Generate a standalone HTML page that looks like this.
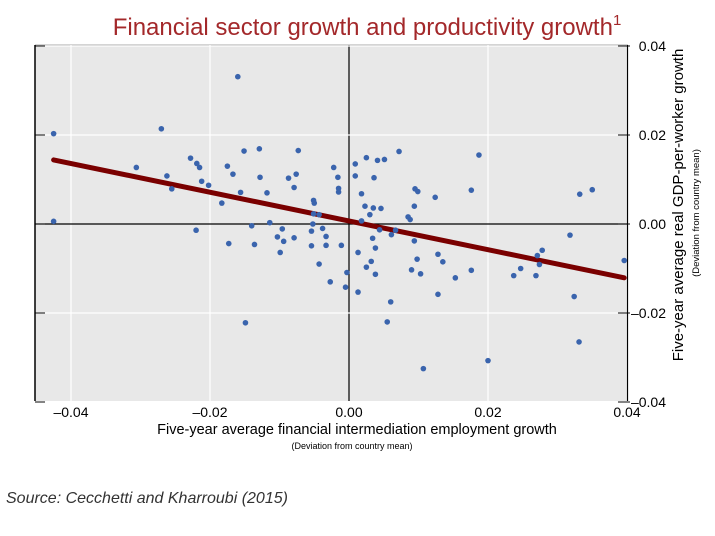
<!DOCTYPE html>
<html><head><meta charset="utf-8"><style>
body{margin:0;background:#fff;width:715px;height:531px;overflow:hidden;font-family:"Liberation Sans",sans-serif}
</style></head><body>
<svg id="chart" width="715" height="531" xmlns="http://www.w3.org/2000/svg" font-family="Liberation Sans, sans-serif">
<text x="367" y="35" text-anchor="middle" font-size="24" fill="#a3282a">Financial sector growth and productivity growth<tspan font-size="15" dy="-10">1</tspan></text>
<rect x="35" y="45" width="593" height="356" fill="#e8e8e8"/>
<line x1="35" y1="45.5" x2="628" y2="45.5" stroke="#aaa" stroke-width="2"/>
<g id="grid"></g>
<line x1="35" y1="45" x2="35" y2="401" stroke="#000" stroke-width="1.5"/>
<line x1="627.5" y1="45" x2="627.5" y2="401" stroke="#000" stroke-width="1.2"/>
<g id="marks"></g>
<text x="357" y="434" text-anchor="middle" font-size="14.5" fill="#000">Five-year average financial intermediation employment growth</text>
<text x="352" y="449" text-anchor="middle" font-size="9" fill="#000">(Deviation from country mean)</text>
<text transform="translate(683,205) rotate(-90)" text-anchor="middle" font-size="15" fill="#000">Five-year average real GDP-per-worker growth</text>
<text transform="translate(699,213) rotate(-90)" text-anchor="middle" font-size="9.5" fill="#000">(Deviation from country mean)</text>
<text x="6" y="503" font-size="16" font-style="italic" fill="#333">Source: Cecchetti and Kharroubi (2015)</text>
</svg>
<script>
const xTicks=[-4,-2,0,2,4];
const xTickLabels=["–0.04","–0.02","0.00","0.02","0.04"];
const yTicks=[4,2,0,-2,-4];
const yTickLabels=["0.04","0.02","0.00","–0.02","–0.04"];
const xVals=[-4.25,-2.70,-3.06,-2.28,-2.19,-2.15,-1.75,-1.67,-2.62,-2.12,-2.02,-2.55,-1.83,-4.25,-2.20,-1.73,-1.49,-1.60,-1.51,-1.29,-0.73,-1.28,-0.87,-0.76,-0.79,-1.56,-1.18,-0.22,-0.16,-0.15,-0.15,-0.51,-0.50,-0.51,-0.43,0.09,0.25,0.41,0.51,0.72,0.09,0.36,0.18,0.95,0.99,0.23,0.35,0.46,0.94,0.30,0.18,0.85,0.88,-1.40,-1.14,-0.96,-1.03,-0.94,-0.79,-0.99,-1.36,-0.52,-0.54,-0.38,-0.33,-0.54,-0.33,-0.11,-0.43,-0.03,-0.27,-0.05,0.13,0.44,0.34,0.61,0.67,0.94,0.13,0.38,0.32,0.25,0.38,0.98,0.90,1.03,0.60,0.55,1.07,1.87,1.76,1.24,3.32,3.50,3.18,1.28,1.35,1.76,1.53,1.28,2.37,2.47,2.69,2.71,2.78,2.74,3.96,3.24,3.31,2.00];
const yVals=[2.03,2.14,1.27,1.48,1.36,1.27,1.30,1.12,1.08,0.96,0.87,0.79,0.47,0.06,-0.14,-0.44,-2.22,3.31,1.64,1.69,1.65,1.05,1.03,1.12,0.82,0.71,0.70,1.27,1.05,0.80,0.72,0.53,0.47,0.23,0.21,1.35,1.49,1.43,1.45,1.63,1.08,1.04,0.68,0.79,0.73,0.40,0.36,0.35,0.40,0.21,0.07,0.16,0.10,-0.04,0.03,-0.11,-0.29,-0.39,-0.31,-0.64,-0.46,0.00,-0.16,-0.10,-0.28,-0.49,-0.48,-0.48,-0.90,-1.09,-1.30,-1.42,-1.53,-0.13,-0.32,-0.24,-0.14,-0.38,-0.64,-0.54,-0.84,-0.97,-1.13,-0.79,-1.03,-1.12,-1.75,-2.20,-3.25,1.55,0.76,0.60,0.67,0.77,-0.25,-0.68,-0.85,-1.04,-1.21,-1.58,-1.16,-1.00,-1.16,-0.71,-0.59,-0.91,-0.82,-1.63,-2.65,-3.07];
const trendX=[-4.25,3.96];
const trendY=[1.44,-1.21];
const NS="http://www.w3.org/2000/svg";
function sx(v){return 349+v*69.5;}
function sy(v){return 224-v*44.5;}
function mk(t,a,p){const e=document.createElementNS(NS,t);for(const k in a)e.setAttribute(k,a[k]);p.appendChild(e);return e;}
const grid=document.getElementById('grid'),marks=document.getElementById('marks'),svg=document.getElementById('chart');
xTicks.forEach((v,i)=>{
  const l=mk('line',{x1:sx(v),y1:45,x2:sx(v),y2:401,stroke:v===0?'#000':'#fff','stroke-width':1.2},grid);
  
  
  const t=mk('text',{x:sx(v),y:417,'text-anchor':'middle','font-size':14,fill:'#000'},svg);
  t.textContent=xTickLabels[i];
  
  
});
yTicks.forEach((v,i)=>{
  const l=mk('line',{x1:35,y1:sy(v),x2:628,y2:sy(v),stroke:v===0?'#000':'#fff','stroke-width':1.2},grid);
  
  
  mk('line',{x1:35,y1:sy(v),x2:45,y2:sy(v),stroke:'#333','stroke-width':1.2},grid);
  mk('line',{x1:618,y1:sy(v),x2:630,y2:sy(v),stroke:'#333','stroke-width':1.2},grid);
  const t=mk('text',{x:666,y:sy(v)+5,'text-anchor':'end','font-size':14,fill:'#000'},svg);
  t.textContent=yTickLabels[i];
  
  
});
const tl=mk('line',{x1:sx(trendX[0]),y1:sy(trendY[0]),x2:sx(trendX[1]),y2:sy(trendY[1]),stroke:'#7a0000','stroke-width':5,'stroke-linecap':'round'},marks);


xVals.forEach((x,i)=>{
  const c=mk('circle',{cx:sx(x),cy:sy(yVals[i]),r:2.8,fill:'#3a64ad'},marks);
  
  
});
</script>
</body></html>
